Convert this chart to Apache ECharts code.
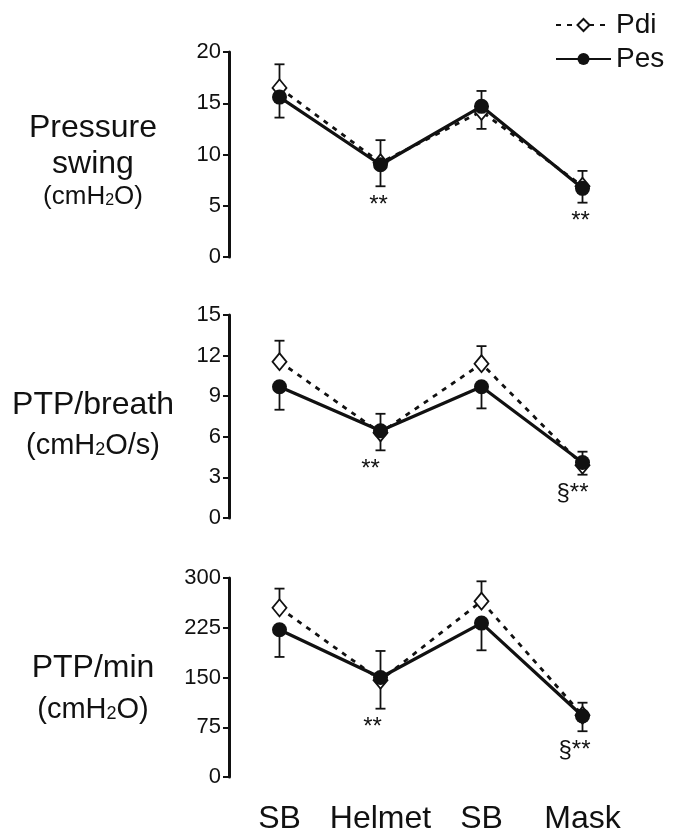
<!DOCTYPE html>
<html>
<head>
<meta charset="utf-8">
<script src="https://cdn.jsdelivr.net/npm/echarts@6/dist/echarts.min.js"></script>
<style>
  html, body { margin: 0; padding: 0; background: #fff; }
  #chart { width: 675px; height: 835px; }
</style>
</head>
<body>
<div id="chart"></div>
<script>
// categories on the x axis
const categories = ["SB", "Helmet", "SB", "Mask"];

// Pressure swing (cmH2O)
const swingPdi = [16.5, 9.2, 14.2, 6.9];
const swingPes = [15.6, 9.0, 14.7, 6.7];
const swingPdiUpper = [18.8, 11.4, 16.2, 8.4];
const swingPesLower = [13.6, 6.9, 12.5, 5.3];
const swingMarks = ["", "**", "", "**"];

// PTP/breath (cmH2O/s)
const breathPdi = [11.55, 6.3, 11.4, 3.9];
const breathPes = [9.7, 6.45, 9.7, 4.1];
const breathPdiUpper = [13.1, 7.7, 12.7, 4.9];
const breathPesLower = [8.0, 5.0, 8.1, 3.2];
const breathMarks = ["", "**", "", "§**"];

// PTP/min (cmH2O)
const minPdi = [255, 146, 265, 93];
const minPes = [222, 150, 232, 92];
const minPdiUpper = [284, 190, 295, 112];
const minPesLower = [181, 103, 191, 69];
const minMarks = ["", "**", "", "§**"];

// y axis ticks
const yTicks = [
  { max: 20, interval: 5 },
  { max: 15, interval: 3 },
  { max: 300, interval: 75 },
];

const FONT = "'Liberation Sans', Arial, Helvetica, sans-serif";
const INK = "#111";

const chart = echarts.init(document.getElementById("chart"));

// vertical error bar from a mean value to its end value
function errorBars(gi, base, ends) {
  return {
    type: "custom",
    xAxisIndex: gi,
    yAxisIndex: gi,
    z: 1,
    silent: true,
    data: base.map((v, i) => [i, v, ends[i]]),
    renderItem(params, api) {
      const p0 = api.coord([api.value(0), api.value(1)]);
      const p1 = api.coord([api.value(0), api.value(2)]);
      const st = { stroke: INK, lineWidth: 1.8 };
      return {
        type: "group",
        children: [
          { type: "line", shape: { x1: p0[0], y1: p0[1], x2: p1[0], y2: p1[1] }, style: st },
          { type: "line", shape: { x1: p1[0] - 5, y1: p1[1], x2: p1[0] + 5, y2: p1[1] }, style: st },
        ],
      };
    },
  };
}

// significance marks under the lower error bar
function marks(gi, lower, texts, dx) {
  return {
    type: "custom",
    xAxisIndex: gi,
    yAxisIndex: gi,
    z: 4,
    silent: true,
    data: lower.map((v, i) => [i, v]),
    renderItem(params, api) {
      const p = api.coord([api.value(0), api.value(1)]);
      return {
        type: "text",
        x: p[0] + dx,
        y: p[1] + 19,
        style: {
          text: texts[params.dataIndex],
          font: "24px " + FONT,
          fill: INK,
          align: "center",
          verticalAlign: "middle",
        },
      };
    },
  };
}

function pdiLine(gi, data) {
  return {
    name: "Pdi",
    type: "line",
    xAxisIndex: gi,
    yAxisIndex: gi,
    z: 2,
    data: data,
    symbol: "diamond",
    symbolSize: [14, 17],
    itemStyle: { color: "#fff", borderColor: INK, borderWidth: 1.8 },
    lineStyle: { color: INK, width: 2.8, type: [5, 6] },
  };
}

function pesLine(gi, data) {
  return {
    name: "Pes",
    type: "line",
    xAxisIndex: gi,
    yAxisIndex: gi,
    z: 3,
    data: data,
    symbol: "circle",
    symbolSize: 15,
    itemStyle: { color: INK },
    lineStyle: { color: INK, width: 3.2, type: "solid" },
  };
}

const grids = [
  { left: 229, width: 404, top: 52, height: 205 },
  { left: 229, width: 404, top: 315, height: 203 },
  { left: 229, width: 404, top: 578, height: 202 },
];

const xAxes = grids.map((g, i) => ({
  type: "category",
  gridIndex: i,
  data: categories,
  boundaryGap: true,
  axisLine: { show: false },
  axisTick: { show: false },
  axisLabel: {
    show: i === 2,
    interval: 0,
    fontSize: 32,
    color: INK,
    fontFamily: FONT,
    margin: 26,
  },
}));

const yAxes = yTicks.map((t, i) => ({
  type: "value",
  gridIndex: i,
  min: 0,
  max: t.max,
  interval: t.interval,
  splitLine: { show: false },
  axisLine: { show: true, lineStyle: { color: INK, width: 3 } },
  axisTick: { show: true, length: 6, lineStyle: { color: INK, width: 2 } },
  axisLabel: { fontSize: 22, color: INK, fontFamily: FONT, margin: 8 },
}));

function label(x, y, text, size) {
  return {
    type: "text",
    x: x,
    y: y,
    style: {
      text: text,
      font: size + "px " + FONT,
      fill: INK,
      align: "center",
      verticalAlign: "middle",
      rich: {
        sub: { fontSize: Math.round(size * 0.62), fontFamily: FONT, fill: INK, padding: [8, 0, 0, 0] },
      },
    },
  };
}

const option = {
  animation: false,
  textStyle: { fontFamily: FONT },
  grid: grids,
  xAxis: xAxes,
  yAxis: yAxes,
  legend: {
    data: ["Pdi", "Pes"],
    orient: "vertical",
    left: 550,
    top: 6,
    itemWidth: 55,
    itemHeight: 15,
    itemGap: 6,
    textStyle: { fontSize: 28, color: INK, fontFamily: FONT },
  },
  graphic: [
    label(93, 128, "Pressure", 32),
    label(93, 164, "swing", 32),
    label(93, 197, "(cmH{sub|2}O)", 26),
    label(93, 405, "PTP/breath", 32),
    label(93, 446, "(cmH{sub|2}O/s)", 29),
    label(93, 668, "PTP/min", 32),
    label(93, 710, "(cmH{sub|2}O)", 29),
  ],
  series: [
    errorBars(0, swingPdi, swingPdiUpper),
    errorBars(0, swingPes, swingPesLower),
    pdiLine(0, swingPdi),
    pesLine(0, swingPes),
    marks(0, swingPesLower, swingMarks, -2),

    errorBars(1, breathPdi, breathPdiUpper),
    errorBars(1, breathPes, breathPesLower),
    pdiLine(1, breathPdi),
    pesLine(1, breathPes),
    marks(1, breathPesLower, breathMarks, -10),

    errorBars(2, minPdi, minPdiUpper),
    errorBars(2, minPes, minPesLower),
    pdiLine(2, minPdi),
    pesLine(2, minPes),
    marks(2, minPesLower, minMarks, -8),
  ],
};

chart.setOption(option);
</script>
</body>
</html>
